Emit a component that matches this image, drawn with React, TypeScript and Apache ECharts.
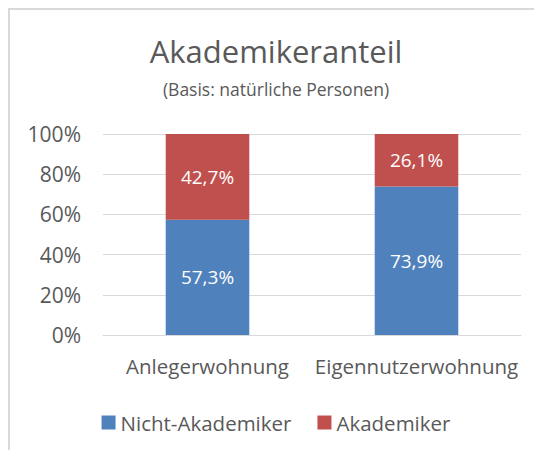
import React, { useEffect, useRef } from "react";
import * as echarts from "echarts";

const categories = ["Anlegerwohnung", "Eigennutzerwohnung"];
const nichtAkademiker = [57.3, 73.9];
const akademiker = [42.7, 26.1];
const seriesNames = ["Nicht-Akademiker", "Akademiker"];
const titleText = "Akademikeranteil";
const subtitleText = "(Basis: natürliche Personen)";

const FONT = "Open Sans";
const GREY = "#595959";

export default function App() {
  const ref = useRef<HTMLDivElement>(null);
  useEffect(() => {
    if (!ref.current) return;
    const chart = echarts.init(ref.current, null, { renderer: "svg" });
    const fmt = (p: any) => p.value.toFixed(1).replace(".", ",") + "%";
    chart.setOption({
      animation: false,
      backgroundColor: "#ffffff",
      title: [
        {
          text: titleText,
          left: "center",
          top: 20,
          textStyle: { fontFamily: FONT, fontSize: 31, fontWeight: "normal", color: GREY },
        },
        {
          text: subtitleText,
          left: "center",
          top: 65,
          textStyle: { fontFamily: FONT, fontSize: 17.5, fontWeight: "normal", color: GREY },
        },
      ],
      grid: { left: 93, right: 21, top: 124, height: 201 },
      xAxis: {
        type: "category",
        data: categories,
        axisLine: { show: true, lineStyle: { color: "#d9d9d9", width: 1 } },
        axisTick: { show: false },
        axisLabel: { fontFamily: FONT, fontSize: 20.5, color: GREY, margin: 20, interval: 0, hideOverlap: false },
      },
      yAxis: {
        type: "value",
        min: 0,
        max: 100,
        interval: 20,
        axisLine: { show: false },
        axisTick: { show: false },
        splitLine: { lineStyle: { color: "#d9d9d9", width: 1 } },
        axisLabel: {
          fontFamily: FONT,
          fontSize: 21,
          color: GREY,
          margin: 22,
          formatter: (v: number) => v + "%",
        },
      },
      legend: {
        data: seriesNames,
        left: "center",
        top: 397,
        itemWidth: 14,
        itemHeight: 14,
        itemGap: 26,
        icon: "rect",
        textStyle: { fontFamily: FONT, fontSize: 20.5, color: GREY },
      },
      series: [
        {
          name: seriesNames[0],
          type: "bar",
          stack: "total",
          barWidth: "40%",
          data: nichtAkademiker,
          itemStyle: { color: "#4F81BD" },
          label: { show: true, position: "inside", fontFamily: FONT, fontSize: 19, color: "#ffffff", formatter: fmt },
        },
        {
          name: seriesNames[1],
          type: "bar",
          stack: "total",
          barWidth: "40%",
          data: akademiker,
          itemStyle: { color: "#C0504D" },
          label: { show: true, position: "inside", fontFamily: FONT, fontSize: 19, color: "#ffffff", formatter: fmt },
        },
      ],
    });
    return () => chart.dispose();
  }, []);
  return (
    <div
      style={{
        width: 534,
        height: 442,
        borderLeft: "2px solid #d9d9d9",
        borderTop: "2px solid #d9d9d9",
        boxSizing: "border-box",
      }}
    >
      <div ref={ref} style={{ width: 532, height: 440 }} />
    </div>
  );
}
